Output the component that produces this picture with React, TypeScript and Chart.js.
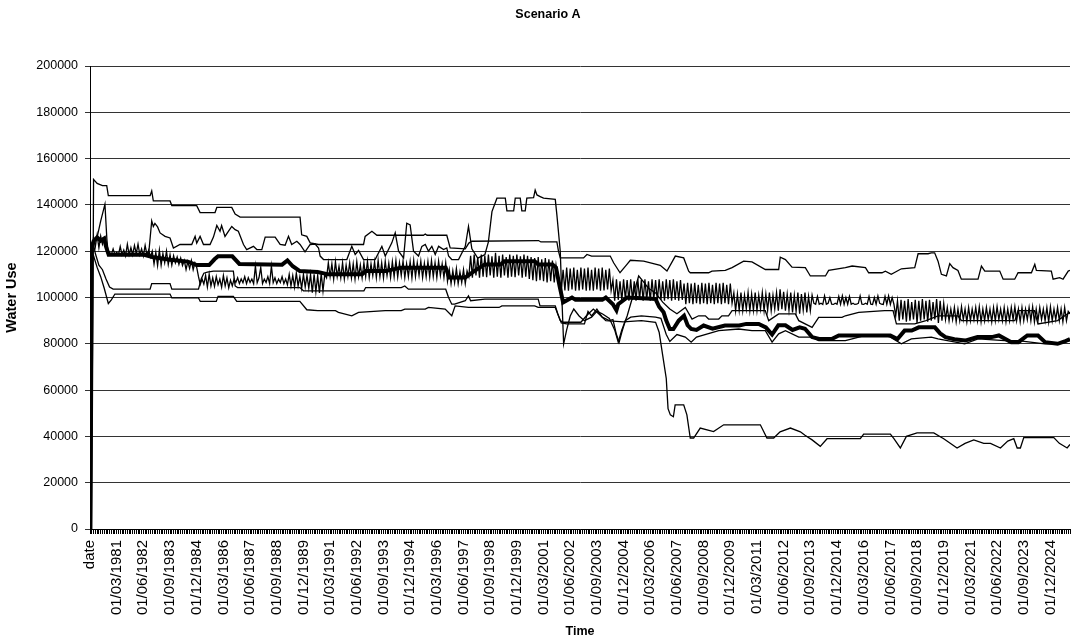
import { useEffect, useRef } from 'react';
import { Chart, registerables } from 'chart.js';

Chart.register(...registerables);

// ---- Data -------------------------------------------------------------
// x axis: monthly categories, index 0 = "date", index 1 = Jan 1980 ... index 551
const LAST_INDEX = 551;
const LABEL_STEP = 15;
const TICK_LABELS = [
  'date', '01/03/1981', '01/06/1982', '01/09/1983', '01/12/1984', '01/03/1986',
  '01/06/1987', '01/09/1988', '01/12/1989', '01/03/1991', '01/06/1992', '01/09/1993',
  '01/12/1994', '01/03/1996', '01/06/1997', '01/09/1998', '01/12/1999', '01/03/2001',
  '01/06/2002', '01/09/2003', '01/12/2004', '01/03/2006', '01/06/2007', '01/09/2008',
  '01/12/2009', '01/03/2011', '01/06/2012', '01/09/2013', '01/12/2014', '01/03/2016',
  '01/06/2017', '01/09/2018', '01/12/2019', '01/03/2021', '01/06/2022', '01/09/2023',
  '01/12/2024',
];

const Y_MIN = 0;
const Y_MAX = 200000;
const Y_STEP = 20000;

// [month index, water use]
const SERIES_A: [number, number][] = [
  [0, 0], [1, 0], [2, 151000], [4, 149300], [7, 148300], [9.4, 148300], [10.3, 144000],
  [33.8, 144000], [34.7, 146000], [35.6, 141700], [45, 141700], [46, 139700], [60, 139700],
  [61.9, 136700], [70.3, 136700], [71.3, 138900], [79.7, 138900], [81.6, 136000], [84.4, 134700],
  [118.1, 134700], [119, 127100], [121.9, 126400], [123.8, 123600], [128.5, 122900],
  [153.8, 122900], [154.7, 126400], [158.5, 128600], [161.3, 126900], [187.5, 126900],
  [188.5, 127400], [189.5, 126900], [200.6, 126900], [202.5, 121400], [211, 121000],
  [213, 123500], [214.7, 124300], [252.2, 124600], [253.5, 124000], [262.5, 124000],
  [263.4, 120000], [264.4, 117100], [277.5, 117100], [279.4, 118600], [282, 117900],
  [292.5, 117900], [294.4, 115000], [298, 110700], [301.9, 114300], [303.8, 116100],
  [311.3, 115700], [320.6, 113900], [324.4, 111400], [329.1, 117900], [333.8, 117100],
  [336.6, 111400], [337.5, 110700], [347.8, 110700], [349.7, 111400], [357.2, 111700],
  [361, 112900], [367.5, 115700], [372.2, 115400], [379.7, 112100], [387.2, 112100],
  [388.1, 117400], [391, 116400], [394.7, 113100], [402.2, 112900], [405, 109300],
  [413.5, 109300], [415.3, 111700], [424.7, 112900], [428.5, 113600], [436, 112900],
  [437.8, 110700], [445.3, 110700], [447.2, 111400], [450.5, 110000], [456.2, 112400],
  [463.7, 112900], [465.6, 118900], [471.2, 118900], [473, 119300], [474.9, 119300],
  [476.8, 115700], [478.7, 110000], [481.5, 109300], [483.4, 114600], [485.2, 112900],
  [488, 111700], [489.9, 107900], [499.3, 107900], [501.2, 113600], [503.1, 111400],
  [511.5, 111400], [513.4, 107900], [519.9, 107900], [521.8, 110700], [529.3, 110700],
  [531.2, 114300], [532.1, 111700], [540.5, 111400], [541.5, 107900], [545.2, 108600],
  [547.1, 107900], [550, 111400], [551, 111700],
];

const SERIES_B: [number, number][] = [
  [0, 0], [1, 120000], [2, 124000], [4, 126000], [6, 133000], [8.4, 140300], [9.5, 125000],
  [10.3, 118600], [20, 119000], [33, 119000], [34.7, 133100], [35.6, 130700], [36.5, 132000],
  [38, 130500], [39.4, 127900], [42.2, 126400], [45, 125700], [46.9, 121400], [50.6, 122900],
  [57.2, 122900], [59.1, 126400], [60, 123500], [61.9, 126400], [63.8, 122900], [67.5, 122900],
  [69.4, 126100], [71.3, 131100], [73.1, 128600], [74, 131100], [75.9, 126400], [77.8, 128600],
  [79.7, 130700], [81.6, 129300], [83.4, 128600], [86.3, 122900], [88.1, 120700], [91.9, 122100],
  [93.8, 120700], [96.6, 120700], [98.5, 126100], [104.1, 126100], [106.9, 122900],
  [109.7, 122600], [111.6, 126400], [113.4, 122900], [116.3, 124300], [118.1, 122900],
  [120.9, 119700], [123.8, 122900], [126.6, 123100], [128.5, 121400], [129.4, 117900],
  [131.3, 116400], [144.4, 116400], [147.2, 122100], [149.1, 118600], [151, 120300],
  [153.8, 116400], [160.3, 116400], [164.1, 122100], [166, 117900], [169.7, 123600],
  [171.6, 127900], [173.5, 120000], [176.3, 117100], [178.1, 132100], [180, 131400],
  [181.9, 120000], [184.7, 117900], [186.6, 122100], [188.5, 122900], [190.3, 120000],
  [192.2, 122100], [194.1, 118600], [196, 122100], [198.8, 120700], [200.6, 121400],
  [201.6, 117900], [203.4, 116400], [207.2, 116400], [211, 122100], [212.8, 130700],
  [214.7, 121000], [218, 117000], [222, 118500], [224, 124000], [226, 137100], [228.8, 142900],
  [233.5, 142900], [234.4, 137400], [238.2, 137400], [239.1, 142900], [241.9, 142900],
  [242.8, 137400], [244.7, 137400], [245.6, 142900], [249.4, 143100], [250.3, 146400],
  [251.3, 144300], [253.1, 143600], [255, 142900], [261.6, 142400], [262.5, 135700],
  [264.4, 120000], [265.3, 100000], [266.3, 80000], [268, 86000], [270, 92000], [272, 95000],
  [275, 92000], [278, 90000], [282, 91500], [285, 94000], [288, 93000], [292, 91000],
  [295, 86000], [297, 80700], [299, 86000], [302, 92000], [305, 100000], [308.5, 109300],
  [311, 107000], [314, 104000], [318, 102000], [322, 98000], [326, 95000], [330, 93000],
  [334.7, 95700], [338.5, 90700], [342.2, 92100], [346, 92100], [347.8, 90700], [353.5, 90700],
  [355.3, 92100], [359, 92100], [361, 94300], [379.7, 94300], [381.6, 90000], [387.2, 92900],
  [396.6, 92900], [398.5, 90000], [406, 87100], [409.7, 91400], [422.8, 91400], [424.7, 92100],
  [432.2, 93600], [446.8, 94300], [451.5, 94300], [453.4, 88600], [463.7, 88600], [470, 90000],
  [476.8, 92100], [488, 92100], [490, 90000], [520, 90000], [521.8, 94300], [531, 94300],
  [533, 88600], [544, 90000], [551, 93600],
];

const SERIES_C: [number, number][] = [
  [0, 0], [1, 121000], [2, 123000], [3, 119000], [5, 114000], [7, 112000], [9, 108000],
  [11, 104500], [13, 103600], [33.8, 103600], [34.7, 106000], [45, 106000], [46, 103600],
  [61, 103600], [62.5, 108000], [64, 110500], [66, 111000], [69.4, 111400], [80.6, 111400],
  [81.6, 105000], [83, 104300], [118, 104300], [120, 102900], [154, 102900], [155, 104300],
  [175, 104300], [177, 105000], [179, 103600], [200, 103600], [201.6, 100000], [203.4, 97100],
  [205, 97100], [211, 98600], [212.8, 100700], [214, 98600], [222, 99300], [252, 99300],
  [253, 96400], [261.6, 96400], [263, 93000], [265, 89000], [268, 88600], [278, 88600],
  [280, 94000], [282, 92000], [285, 95000], [288, 91500], [292, 90000], [294, 90500],
  [296, 84000], [297.5, 80700], [299, 85000], [301, 90000], [304, 91500], [310, 92100],
  [318, 91500], [321, 91000], [324, 84000], [326, 81000], [330, 84000], [334.7, 82900],
  [338, 80700], [341, 82900], [353.5, 85700], [364.7, 86400], [372.2, 85700], [379.7, 85700],
  [383.5, 80700], [387.2, 84300], [391, 85700], [398.5, 82900], [406, 82900], [409.7, 81400],
  [424.7, 81400], [428.5, 82100], [436, 83600], [447, 83600], [450, 82900], [456.2, 80000],
  [461.8, 82100], [473, 82900], [476.8, 82100], [491.8, 80000], [499.3, 82100], [514.3, 81400],
  [521.8, 81400], [536.8, 80000], [544.3, 80000], [551, 81400],
];

const SERIES_D: [number, number][] = [
  [0, 0], [1, 116000], [2, 118000], [4, 113000], [6, 109000], [8, 104000], [10.3, 97400],
  [12, 99000], [14, 101500], [45, 101500], [46, 99800], [61, 99800], [62, 98300], [71, 98300],
  [72, 100500], [80.6, 100500], [82.5, 98300], [118, 98300], [121.9, 94700], [128, 94300],
  [138, 94300], [139.7, 93600], [147.2, 92100], [151, 93600], [166, 94300], [175, 94300],
  [177, 95000], [188.5, 95000], [190.3, 95700], [199.7, 95000], [203.4, 92100], [205.3, 96400],
  [212.8, 95700], [230, 95700], [231.6, 96400], [250, 96400], [252, 95700], [261.6, 95700],
  [264.4, 90000], [266, 89300], [276, 89300], [279, 92000], [283, 95000], [286, 93000],
  [290, 90000], [300, 89500], [310, 90000], [318, 89300], [320, 85000], [322, 75000],
  [324, 65000], [325, 52000], [326.3, 49300], [328, 48500], [329, 53600], [333.8, 53600],
  [335.6, 49300], [337.5, 39300], [339.4, 39300], [343.1, 43600], [350.6, 42100], [356.3, 45000],
  [376.9, 45000], [380.6, 39300], [384.4, 39300], [388, 42000], [393.8, 43600], [399.4, 42000],
  [402, 40500], [406, 38500], [410.6, 35700], [414.4, 39000], [433.1, 39000], [435, 41000],
  [450, 41000], [452, 39000], [455.6, 35000], [459, 40000], [465, 41500], [474.4, 41500],
  [480, 39000], [487.5, 35000], [492, 37000], [496.9, 38500], [502.5, 37000], [506.3, 37000],
  [511.9, 35000], [516, 38000], [519.4, 39000], [521.3, 35000], [523.1, 35000], [525, 39500],
  [541.9, 39500], [545, 37000], [549.4, 35000], [551, 36500],
];

// thick series
const SERIES_E: [number, number][] = [
  [0, 0], [1, 122000], [2, 124300], [4, 126000], [6, 124500], [8, 125500], [9, 122000],
  [10.5, 118500], [30, 118500], [35, 117500], [45, 116300], [55, 115500], [60, 114000],
  [67, 114000], [70, 116500], [72, 117800], [80, 117800], [84, 114500], [108, 114200],
  [111, 116000], [114, 113500], [118, 111400], [128, 111000], [134, 110000], [153, 110000],
  [155, 111400], [166, 111400], [175, 112900], [200, 112900], [202, 108600], [211, 108600],
  [216, 111400], [222, 114300], [231, 114300], [233, 115700], [250, 115700], [252, 114300],
  [260, 114300], [262, 112900], [264, 105000], [266, 97900], [271, 100000], [273, 99000],
  [288, 99000], [290, 100000], [294, 97100], [296, 94500], [297, 97100], [302, 100000],
  [316, 99500], [318, 99300], [320, 96000], [322.5, 93600], [324, 90000], [326, 86400],
  [328, 86400], [331, 90000], [334, 92100], [336, 88000], [338, 86400], [341, 86000],
  [345, 87900], [350, 86500], [357, 87900], [365, 87900], [369, 88600], [376, 88600],
  [380, 87100], [383.5, 84000], [387, 88000], [391, 88000], [395, 86000], [399, 87100],
  [402, 86500], [406, 82900], [410, 82100], [417, 82100], [421, 83600], [450, 83600],
  [454, 82100], [458, 85700], [462, 85700], [466, 87100], [475, 87100], [478, 84500],
  [481, 82900], [486, 82000], [492, 81400], [499, 82900], [507, 82900], [511, 83600],
  [518, 80700], [522, 80700], [527, 83600], [533, 83600], [537, 80700], [544, 80000],
  [548, 81000], [551, 82100],
];

// zig-zag series, one value per month (index 0..551)
const SERIES_F: number[] = [
  0, 118000, 126000, 122000, 127000, 121500, 126500, 123000, 125500, 121000,
  118500, 119500, 118500, 121000, 118500, 119500, 118500, 122000, 118500, 120500,
  118000, 123000, 118500, 121500, 118500, 122500, 119000, 123000, 118500, 121000,
  118000, 122500, 118500, 120500, 117500, 120000, 114500, 119500, 113800, 120500,
  114000, 119000, 115000, 120000, 114200, 118500, 114000, 118000, 115000, 117500,
  114300, 117000, 113800, 116000, 112100, 115500, 112500, 116000, 112000, 115000,
  113000, 109000, 105700, 108000, 105800, 109500, 104500, 110000, 105000, 108500,
  104800, 109000, 105500, 108000, 104500, 109500, 105000, 108500, 104200, 107500,
  105000, 108000, 106500, 108500, 106000, 108000, 106400, 109000, 106000, 108500,
  106500, 108000, 106000, 113600, 106400, 108500, 113000, 106000, 108000, 106500,
  109000, 106000, 113600, 106400, 108500, 106000, 108000, 106500, 109000, 106000,
  108000, 105500, 110000, 105000, 109500, 104500, 110500, 105000, 109000, 104000,
  110000, 104500, 109500, 104000, 110000, 102100, 110000, 102500, 109500, 102000,
  110500, 102800, 110000, 108500, 115000, 109000, 114500, 108000, 115500, 109000,
  113500, 108500, 115000, 108000, 114000, 109000, 115000, 108500, 114500, 108000,
  115500, 109000, 114000, 108500, 115000, 109000, 115700, 108600, 114500, 109500,
  115500, 108600, 116000, 109000, 115000, 108500, 115700, 109500, 114800, 108600,
  115500, 109000, 116000, 108800, 115000, 109500, 115700, 108600, 114500, 109000,
  115500, 108500, 116000, 109000, 115000, 109500, 115700, 108600, 114800, 109000,
  115500, 108800, 116000, 109000, 115000, 108600, 115700, 109500, 114500, 108600,
  115000, 107000, 112000, 106000, 111500, 106400, 112500, 106000, 111000, 106500,
  112000, 106000, 111500, 109000, 118000, 108600, 118600, 109500, 117500, 108600,
  118600, 109000, 118000, 108800, 118600, 109500, 117800, 108600, 119300, 109000,
  118000, 108600, 118600, 109500, 117500, 108600, 118600, 109000, 118000, 108800,
  118600, 109500, 117800, 108600, 118600, 109000, 118000, 108000, 117500, 107500,
  117000, 107000, 117500, 107500, 116500, 107000, 117000, 106500, 116500, 107000,
  116000, 106500, 114000, 108000, 104000, 103000, 112000, 103000, 112900, 102900,
  112500, 103500, 112900, 102900, 112000, 103000, 112900, 103500, 112500, 102900,
  112900, 103000, 112000, 102900, 112900, 103500, 112500, 102900, 112900, 103000,
  112000, 103500, 112500, 103000, 107500, 98600, 107900, 99000, 107000, 98600,
  107900, 99300, 107500, 98600, 107900, 99000, 107000, 98600, 107900, 99300,
  107500, 98600, 107900, 99000, 107000, 98600, 107900, 99300, 107500, 98600,
  107900, 99000, 107000, 98600, 107900, 99300, 107500, 98600, 107900, 99000,
  107000, 98600, 107500, 99000, 106000, 97100, 106400, 97500, 106000, 97100,
  106400, 97500, 105500, 97100, 106400, 97500, 106000, 97100, 106400, 97500,
  105500, 97100, 106400, 97500, 106000, 97100, 106400, 97500, 105500, 97100,
  106000, 97500, 102000, 94300, 101500, 94500, 102100, 94300, 101000, 95000,
  102100, 94300, 101500, 94500, 102100, 94300, 101000, 95000, 102100, 94300,
  101500, 94500, 102100, 94300, 101000, 95000, 102100, 94300, 103500, 95000,
  102500, 94300, 101500, 94500, 102100, 93500, 101000, 94000, 102100, 93000,
  101500, 94500, 102100, 93500, 100500, 94300, 101000, 97500, 97100, 100500,
  97100, 97500, 97000, 100700, 97100, 97500, 100000, 97100, 97000, 97500,
  97100, 100500, 97100, 100700, 97000, 100000, 97100, 100500, 97100, 97500,
  97000, 97100, 97500, 100700, 97100, 97000, 97500, 97100, 100500, 97100,
  97000, 100000, 97100, 100700, 97500, 97100, 97000, 100500, 97100, 100700,
  97000, 100000, 97100, 92000, 98600, 90000, 99000, 90500, 98600, 89500,
  99300, 90000, 98000, 90500, 99000, 89000, 98600, 90000, 99300, 90500,
  98600, 89500, 99000, 90000, 98000, 90500, 99300, 89000, 98600, 90000,
  97500, 90500, 95700, 90000, 95000, 90500, 95700, 89500, 95000, 90000,
  96000, 90500, 95000, 89500, 95700, 90000, 95000, 90500, 95700, 90000,
  96000, 89500, 95000, 90000, 95700, 90500, 95000, 89500, 95700, 90000,
  96000, 90500, 95000, 90000, 95700, 89500, 95000, 90000, 95700, 90500,
  96000, 90000, 95000, 89500, 95700, 90000, 95000, 90500, 95700, 90000,
  96000, 89500, 95000, 90000, 95700, 90500, 95000, 90000, 95700, 89500,
  96000, 90000, 95000, 90500, 95700, 90000, 95000, 89500, 95700, 90000,
  94000, 92900,
];

// ---- Chart ------------------------------------------------------------
const FONT = '"Liberation Sans", Arial, sans-serif';

const pairsToPoints = (pairs: [number, number][]) => pairs.map(([x, y]) => ({ x, y }));
const monthlyToPoints = (vals: number[]) => vals.map((y, x) => ({ x, y }));

export default function App() {
  const ref = useRef<HTMLCanvasElement | null>(null);

  useEffect(() => {
    if (!ref.current) return;
    const titlePlugin = {
      id: 'scenarioTitle',
      afterDraw(chart: any) {
        const ctx = chart.ctx;
        ctx.save();
        ctx.font = `bold 12.5px ${FONT}`;
        ctx.fillStyle = '#000';
        ctx.textAlign = 'center';
        ctx.textBaseline = 'middle';
        ctx.fillText('Scenario A', 548, 15);
        ctx.restore();
      },
    };

    const thin = (data: { x: number; y: number }[]) => ({
      data,
      borderColor: '#000',
      borderWidth: 1.3,
      pointRadius: 0,
      tension: 0,
      fill: false,
    });

    const chart = new Chart(ref.current, {
      type: 'line',
      data: {
        datasets: [
          { ...thin(pairsToPoints(SERIES_E)), borderWidth: 4, label: 'E' },
          { ...thin(monthlyToPoints(SERIES_F)), label: 'F' },
          { ...thin(pairsToPoints(SERIES_A)), label: 'A' },
          { ...thin(pairsToPoints(SERIES_B)), label: 'B' },
          { ...thin(pairsToPoints(SERIES_C)), label: 'C' },
          { ...thin(pairsToPoints(SERIES_D)), label: 'D' },
        ] as any,
      },
      options: {
        responsive: false,
        animation: false,
        layout: { padding: { left: 0, right: 1, top: 66, bottom: 0 } },
        plugins: {
          legend: { display: false },
          title: { display: false },
          tooltip: { enabled: false },
        },
        scales: {
          x: {
            type: 'linear',
            min: 0,
            max: LAST_INDEX,
            offset: false,
            ticks: {
              stepSize: 1,
              autoSkip: false,
              maxRotation: 90,
              minRotation: 90,
              padding: 6,
              color: '#000',
              font: { size: 15, family: FONT },
              callback: (v: any) => {
                const i = Math.round(Number(v));
                if (i % LABEL_STEP !== 0) return '';
                return TICK_LABELS[i / LABEL_STEP] ?? '';
              },
            },
            grid: {
              display: true,
              drawOnChartArea: false,
              drawTicks: true,
              tickLength: 5,
              color: '#000',
              lineWidth: 1,
            },
            border: { display: true, color: '#000', width: 1 },
            title: {
              display: true,
              text: 'Time',
              color: '#000',
              font: { size: 12.5, weight: 'bold', family: FONT },
              padding: { top: 0, bottom: 2 },
            },
            afterFit: (s: any) => {
              s.height = 112;
              s.paddingLeft = 0;
              s.paddingRight = 0;
            },
          },
          y: {
            min: Y_MIN,
            max: Y_MAX,
            ticks: {
              stepSize: Y_STEP,
              color: '#000',
              padding: 7,
              font: { size: 12.5, family: FONT },
              callback: (v: any) => String(v),
            },
            grid: { color: '#333', lineWidth: 1, tickLength: 5, drawTicks: true },
            border: { display: true, color: '#000', width: 1 },
            title: {
              display: true,
              text: 'Water Use',
              color: '#000',
              font: { size: 14.5, weight: 'bold', family: FONT },
              padding: { top: 3, bottom: 0 },
            },
            afterFit: (s: any) => {
              s.width = 90;
              s.paddingTop = 0;
              s.paddingBottom = 0;
            },
          },
        },
      } as any,
      plugins: [titlePlugin],
    });

    return () => chart.destroy();
  }, []);

  return (
    <div style={{ position: 'absolute', left: 0, top: 0, width: 1071, height: 641, background: '#fff' }}>
      <canvas ref={ref} width={1071} height={641} style={{ display: 'block' }} />
    </div>
  );
}
